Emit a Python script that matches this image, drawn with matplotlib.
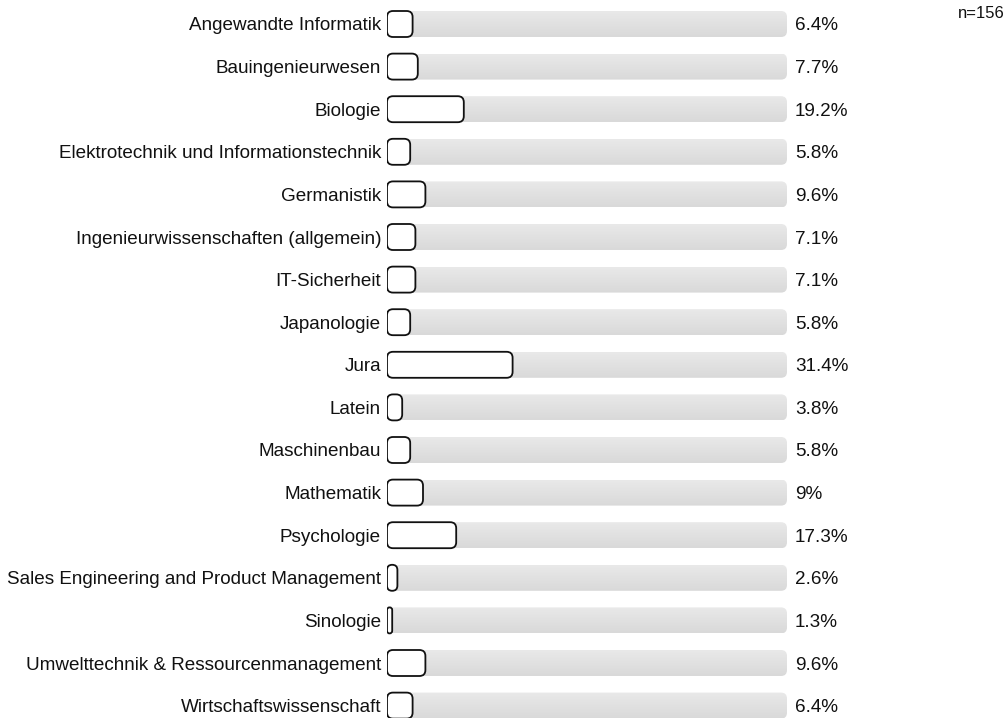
import matplotlib.pyplot as plt
from matplotlib.patches import FancyBboxPatch
from matplotlib.colors import LinearSegmentedColormap
import numpy as np

plt.rcParams['font.family'] = ['Liberation Sans', 'DejaVu Sans']

categories = [
    "Angewandte Informatik", "Bauingenieurwesen", "Biologie",
    "Elektrotechnik und Informationstechnik", "Germanistik",
    "Ingenieurwissenschaften (allgemein)", "IT-Sicherheit", "Japanologie",
    "Jura", "Latein", "Maschinenbau", "Mathematik", "Psychologie",
    "Sales Engineering and Product Management", "Sinologie",
    "Umwelttechnik & Ressourcenmanagement", "Wirtschaftswissenschaft",
]
values = [6.4, 7.7, 19.2, 5.8, 9.6, 7.1, 7.1, 5.8, 31.4, 3.8, 5.8, 9.0, 17.3, 2.6, 1.3, 9.6, 6.4]
value_labels = ["6.4%", "7.7%", "19.2%", "5.8%", "9.6%", "7.1%", "7.1%", "5.8%", "31.4%",
                "3.8%", "5.8%", "9%", "17.3%", "2.6%", "1.3%", "9.6%", "6.4%"]
n_total = 156

W, H = 1007, 718
fig = plt.figure(figsize=(W / 100, H / 100), dpi=100)
x0, x1 = 387, 787
row0, step = 24, 42.6
ax = fig.add_axes([x0 / W, 0, (x1 - x0) / W, 1])

px_x = 100 / (x1 - x0)      # data units per pixel in x
px_y = 1 / step             # data units per pixel in y
aspect = px_y / px_x
bar_h = 26 * px_y
r = 6 * px_x

grad = np.linspace(0, 1, 64).reshape(-1, 1)
gcmap = LinearSegmentedColormap.from_list('g', ['#e9e9e9', '#d9d9d9'])

for i, (cat, v, lab) in enumerate(zip(categories, values, value_labels)):
    top = i - bar_h / 2
    track = FancyBboxPatch((0, top), 100, bar_h,
                           boxstyle=f"round,pad=0,rounding_size={r}",
                           mutation_aspect=aspect, facecolor='none',
                           edgecolor='none', zorder=1)
    ax.add_patch(track)
    im = ax.imshow(grad, cmap=gcmap, extent=(0, 100, top + bar_h, top),
                   aspect='auto', zorder=1, interpolation='bilinear')
    im.set_clip_path(track)
    rs = min(r, v / 2)
    bar = FancyBboxPatch((0, top), v, bar_h,
                         boxstyle=f"round,pad=0,rounding_size={rs}",
                         mutation_aspect=aspect, facecolor='white',
                         edgecolor='#111111', linewidth=1.3, zorder=3)
    ax.add_patch(bar)
    ax.text(-6 * px_x, i, cat, ha='right', va='center_baseline', fontsize=13.6, color='#111111')
    ax.text(100 + 8 * px_x, i, lab, ha='left', va='center_baseline', fontsize=13.6, color='#111111')

ax.set_xlim(0, 100)
ax.set_ylim((H - row0) / step, -row0 / step)
ax.axis('off')
fig.text(1 - 2 / W, 1 - 13 / H, f"n={n_total}", ha='right', va='center', fontsize=12, color='#111111')

fig.savefig('out.png', dpi=100)
